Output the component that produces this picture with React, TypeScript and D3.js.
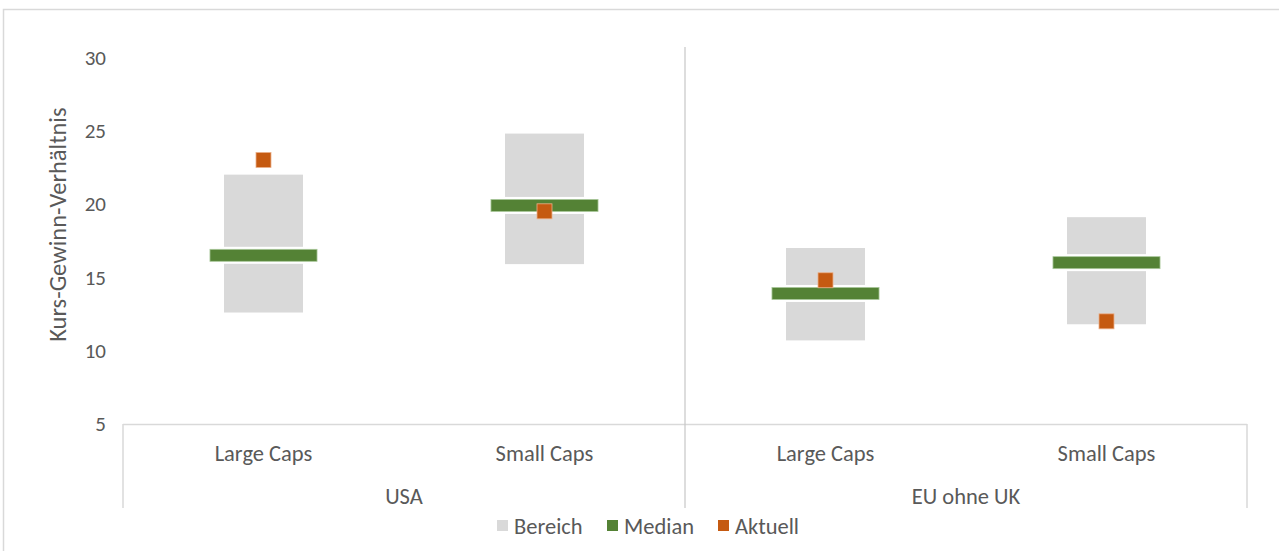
import React from "react";
import * as d3 from "d3";

// Kurs-Gewinn-Verhältnis: historische Bandbreite, Median und aktueller Wert
const categories = ["Large Caps", "Small Caps", "Large Caps", "Small Caps"];
const groups = ["USA", "EU ohne UK"];
const rangeLow = [12.6, 15.9, 10.7, 11.8];
const rangeHigh = [22.0, 24.8, 17.0, 19.1];
const median = [16.5, 19.9, 13.9, 16.0];
const current = [23.0, 19.5, 14.8, 12.0];
const yTicks = [5, 10, 15, 20, 25, 30];
const legendItems = ["Bereich", "Median", "Aktuell"];

const W = 1279;
const H = 551;
const FONT = "Carlito, Calibri, Lato, 'Liberation Sans', sans-serif";
const TEXT = "#595959";
const GRAY = "#d9d9d9";
const GREEN = "#548235";
const ORANGE = "#c55a11";

export default function App() {
  const left = 123;
  const right = 1247;
  const axisBottom = 424;
  const axisTop = 57.3;
  const boxBottom = 508;

  const x = d3
    .scaleBand<number>()
    .domain(categories.map((_, i) => i))
    .range([left, right])
    .paddingInner(0)
    .paddingOuter(0);
  const y = d3.scaleLinear().domain([5, 30]).range([axisBottom, axisTop]);
  const gx = d3
    .scaleBand<number>()
    .domain(groups.map((_, i) => i))
    .range([left, right]);

  const bw = x.bandwidth();
  const rangeW = bw * 0.281;
  const medW = bw * 0.381;
  const medH = 12;
  const mk = 15;

  const legendColors = [GRAY, GREEN, ORANGE];
  const legendX = [497, 607, 718];

  return (
    <svg
      width={W}
      height={H}
      style={{ position: "absolute", left: 0, top: 0, background: "#fff" }}
      fontFamily={FONT}
    >
      {/* chart frame */}
      <rect x={3.5} y={9.5} width={W + 20} height={H + 20} fill="#fff" stroke={GRAY} strokeWidth={1.5} />

      {/* y-axis tick labels */}
      {yTicks.map((t) => (
        <text key={t} x={106} y={y(t)} dy="0.35em" textAnchor="end" fontSize={21} fill={TEXT}>
          {t}
        </text>
      ))}
      <text
        transform={`translate(66,${(axisTop + axisBottom) / 2 - 16}) rotate(-90)`}
        textAnchor="middle"
        fontSize={24.5}
        fill={TEXT}
      >
        Kurs-Gewinn-Verhältnis
      </text>

      {/* category axis box */}
      <line x1={left} x2={right} y1={axisBottom + 0.5} y2={axisBottom + 0.5} stroke={GRAY} strokeWidth={1.5} />
      <line x1={left} x2={left} y1={axisBottom} y2={boxBottom} stroke={GRAY} strokeWidth={1.5} />
      <line x1={right} x2={right} y1={axisBottom} y2={boxBottom} stroke={GRAY} strokeWidth={1.5} />
      <line
        x1={gx(1)!}
        x2={gx(1)!}
        y1={47}
        y2={boxBottom}
        stroke="#c6c6c6"
        strokeWidth={1.2}
      />

      {categories.map((c, i) => (
        <text
          key={"c" + i}
          x={x(i)! + bw / 2}
          y={453}
          dy="0.35em"
          textAnchor="middle"
          fontSize={22.5}
          fill={TEXT}
        >
          {c}
        </text>
      ))}
      {groups.map((g, i) => (
        <text
          key={"g" + i}
          x={gx(i)! + gx.bandwidth() / 2}
          y={496}
          dy="0.35em"
          textAnchor="middle"
          fontSize={22.5}
          fill={TEXT}
        >
          {g}
        </text>
      ))}

      {/* ranges, medians, current values */}
      {categories.map((_, i) => {
        const cx = x(i)! + bw / 2;
        const ym = y(median[i]);
        const yc = y(current[i]);
        return (
          <g key={"m" + i}>
            <rect
              x={cx - rangeW / 2}
              y={y(rangeHigh[i])}
              width={rangeW}
              height={y(rangeLow[i]) - y(rangeHigh[i])}
              fill={GRAY}
            />
            <rect x={cx - medW / 2 - 1} y={ym - medH / 2 - 2.5} width={medW + 2} height={medH + 5} fill="#fff" />
            <rect
              x={cx - medW / 2}
              y={ym - medH / 2}
              width={medW}
              height={medH}
              fill={GREEN}
              stroke="#a9c79a"
              strokeWidth={0.8}
            />
            <rect
              x={cx - mk / 2}
              y={yc - mk / 2}
              width={mk}
              height={mk}
              fill={ORANGE}
              stroke="#eab08a"
              strokeWidth={0.8}
            />
          </g>
        );
      })}

      {/* legend */}
      {legendItems.map((l, i) => (
        <g key={l}>
          <rect x={legendX[i]} y={520} width={11} height={11} fill={legendColors[i]} />
          <text x={legendX[i] + 17} y={526} dy="0.35em" fontSize={22.5} fill={TEXT}>
            {l}
          </text>
        </g>
      ))}
    </svg>
  );
}
